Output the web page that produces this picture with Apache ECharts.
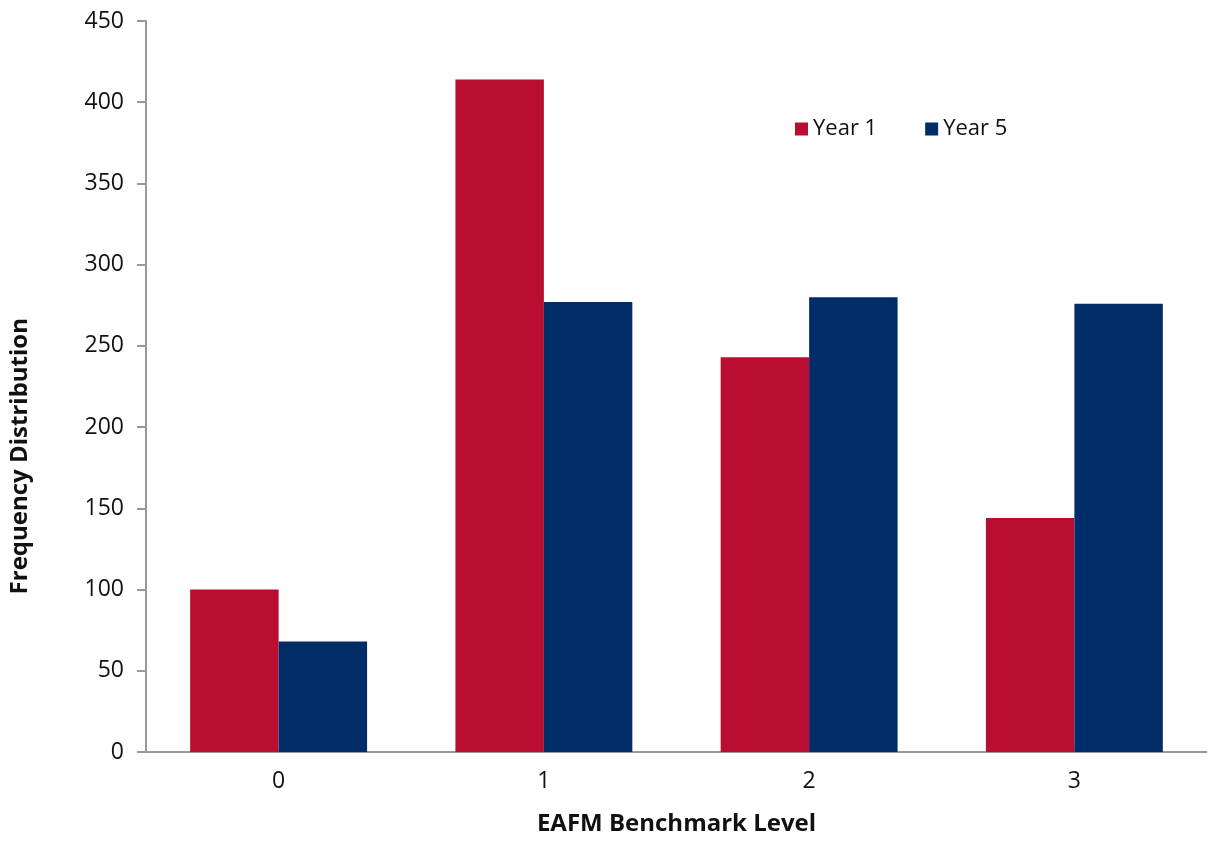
<!DOCTYPE html>
<html><head><meta charset="utf-8">
<script src="https://cdn.jsdelivr.net/npm/echarts@6/dist/echarts.min.js"></script>
<style>html,body{margin:0;padding:0;background:#fff}#c{width:1207px;height:841px}</style>
</head><body><div id="c"></div>
<script>
const categories = ['0', '1', '2', '3'];
const year1 = [100, 414, 243, 144];
const year5 = [68, 277, 280, 276];
const yTicks = { min: 0, max: 450, interval: 50 };
const xTitle = 'EAFM Benchmark Level';
const yTitle = 'Frequency Distribution';

const font = '"Open Sans", Lato, sans-serif';
const chart = echarts.init(document.getElementById('c'), null, { renderer: 'canvas' });
chart.setOption({
  animation: false,
  backgroundColor: '#fff',
  grid: { left: 146, width: 1068, top: 21, bottom: 81, containLabel: false },
  legend: {
    left: 790, top: 113,
    itemWidth: 13, itemHeight: 13, itemGap: 48,
    icon: 'rect',
    textStyle: { fontFamily: font, fontSize: 22, color: '#111' },
    data: ['Year 1', 'Year 5']
  },
  graphic: [{
    type: 'text',
    left: 8, top: 318,
    rotation: Math.PI / 2,
    style: {
      text: yTitle,
      x: 0, y: 0,
      fontFamily: font, fontSize: 24, fontWeight: 'bold', fill: '#111'
    }
  }],
  xAxis: {
    type: 'category',
    data: categories,
    name: xTitle,
    nameLocation: 'middle',
    nameGap: 60,
    nameTextStyle: { fontFamily: font, fontSize: 24, fontWeight: 'bold', color: '#111' },
    axisLine: { lineStyle: { color: '#999', width: 2 } },
    axisTick: { show: false },
    axisLabel: { fontFamily: font, fontSize: 23, color: '#111', margin: 18 }
  },
  yAxis: {
    type: 'value',
    min: yTicks.min, max: yTicks.max, interval: yTicks.interval,
    axisLine: { show: true, lineStyle: { color: '#999', width: 2 } },
    axisTick: { show: true, length: 9, lineStyle: { color: '#999', width: 2 } },
    splitLine: { show: false },
    axisLabel: { fontFamily: font, fontSize: 23, color: '#111', margin: 22 }
  },
  series: [
    { name: 'Year 1', type: 'bar', data: year1, barGap: '0%', barCategoryGap: '33.3%',
      itemStyle: { color: '#B90E2F' } },
    { name: 'Year 5', type: 'bar', data: year5, barGap: '0%', barCategoryGap: '33.3%',
      itemStyle: { color: '#002D67' } }
  ]
});
</script></body></html>
